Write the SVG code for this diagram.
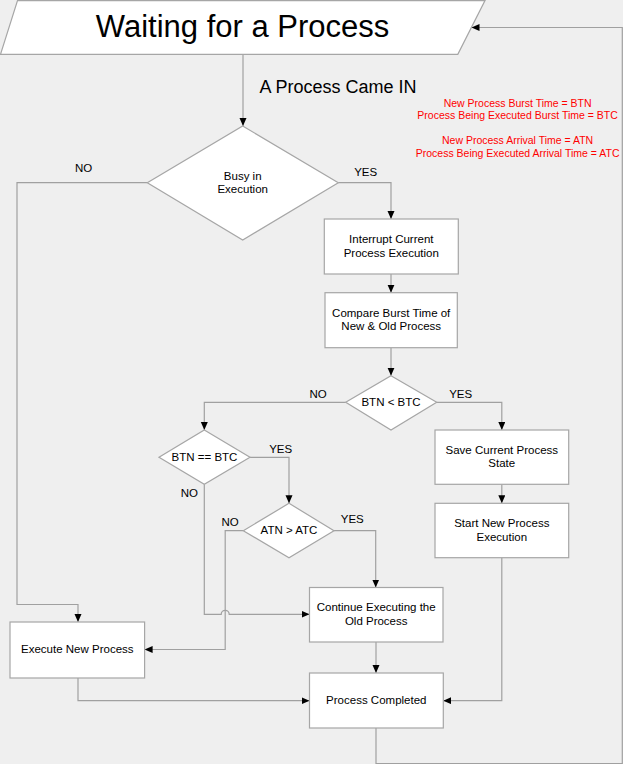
<svg xmlns="http://www.w3.org/2000/svg" width="625" height="769" viewBox="0 0 625 769">
<style>
.node{fill:#ffffff;stroke:#a6a6a6;stroke-width:1.2}
.t{font-family:"Liberation Sans",Arial,sans-serif;font-size:11.5px;fill:#000;text-anchor:middle}
.lbl{font-family:"Liberation Sans",Arial,sans-serif;font-size:11.5px;fill:#000;text-anchor:middle}
.red{font-family:"Liberation Sans",Arial,sans-serif;font-size:10.5px;fill:#ff0000;text-anchor:middle}
.c{fill:none;stroke:#a0a0a0;stroke-width:1.2}
</style>
<defs>
<marker id="arr" markerUnits="userSpaceOnUse" markerWidth="9" markerHeight="8" refX="8" refY="3.5" orient="auto">
<path d="M0,0 L8,3.5 L0,7 z" fill="#000"/>
</marker>
</defs>
<rect x="0" y="0" width="623" height="764" fill="#efefef"/>

<g id="connectors">
<path class="c" d="M243,54.5 V126" marker-end="url(#arr)"/>
<path class="c" d="M147.3,182.7 H17 V604.5 H78 V622" marker-end="url(#arr)"/>
<path class="c" d="M338.3,182.7 H391 V219" marker-end="url(#arr)"/>
<path class="c" d="M391,274 V292.7" marker-end="url(#arr)"/>
<path class="c" d="M391,347.7 V375.7" marker-end="url(#arr)"/>
<path class="c" d="M436.7,402.3 H501.8 V430" marker-end="url(#arr)"/>
<path class="c" d="M501.8,484.3 V503.3" marker-end="url(#arr)"/>
<path class="c" d="M501.8,557.7 V700.7 H443.3" marker-end="url(#arr)"/>
<path class="c" d="M345.7,402.3 H204.3 V430" marker-end="url(#arr)"/>
<path class="c" d="M250,457.3 H289 V503.3" marker-end="url(#arr)"/>
<path class="c" d="M204.3,484.3 V614.3 H221.2 A4,4 0 0 1 229.2,614.3 H309.5" marker-end="url(#arr)"/>
<path class="c" d="M334,530.7 H375.7 V587.5" marker-end="url(#arr)"/>
<path class="c" d="M243.3,530.7 H225.2 V649.5 H144.6" marker-end="url(#arr)"/>
<path class="c" d="M376,642 V673" marker-end="url(#arr)"/>
<path class="c" d="M78,678 V700.7 H309.5" marker-end="url(#arr)"/>
<path class="c" d="M376,728 V763.5 H622.3 V27.5 H471.5" marker-end="url(#arr)"/>
</g>

<g id="title">
<polygon class="node" points="17.5,0.6 485,0.6 457.8,54.3 0.5,54.3"/>
<text x="242.6" y="37" font-family="Liberation Sans,Arial,sans-serif" font-size="31" text-anchor="middle" fill="#000">Waiting for a Process</text>
</g>

<g id="came-in">
<text x="259.5" y="93" font-family="Liberation Sans,Arial,sans-serif" font-size="18" fill="#000">A Process Came IN</text>
</g>

<g id="legend">
<text class="red" x="517.6" y="106.7">New Process Burst Time = BTN</text>
<text class="red" x="517.6" y="119">Process Being Executed Burst Time = BTC</text>
<text class="red" x="517.6" y="144">New Process Arrival Time = ATN</text>
<text class="red" x="517.6" y="156.5">Process Being Executed Arrival Time = ATC</text>
</g>

<g id="busy">
<polygon class="node" points="242.7,126 338.3,182.7 242.7,240 147.3,182.7"/>
<text class="t" x="242.7" y="180">Busy in</text>
<text class="t" x="242.7" y="193.3">Execution</text>
</g>

<g id="interrupt">
<rect class="node" x="324.3" y="219" width="134" height="55"/>
<text class="t" x="391.3" y="243.3">Interrupt Current</text>
<text class="t" x="391.3" y="257.3">Process Execution</text>
</g>

<g id="compare">
<rect class="node" x="325" y="292.7" width="132.3" height="55"/>
<text class="t" x="391.2" y="316.7">Compare Burst Time of</text>
<text class="t" x="391.2" y="330">New &amp; Old Process</text>
</g>

<g id="btn-lt-btc">
<polygon class="node" points="391,375.7 436.7,402.3 391,430 345.7,402.3"/>
<text class="t" x="391" y="406.3">BTN &lt; BTC</text>
</g>

<g id="save">
<rect class="node" x="435" y="430" width="133.7" height="54.3"/>
<text class="t" x="501.8" y="454">Save Current Process</text>
<text class="t" x="501.8" y="467.3">State</text>
</g>

<g id="start">
<rect class="node" x="435" y="503.3" width="133.7" height="54.4"/>
<text class="t" x="501.8" y="527.3">Start New Process</text>
<text class="t" x="501.8" y="540.7">Execution</text>
</g>

<g id="btn-eq-btc">
<polygon class="node" points="204.3,430 250,457.3 204.3,484.3 159,457.3"/>
<text class="t" x="204.5" y="461">BTN == BTC</text>
</g>

<g id="atn-gt-atc">
<polygon class="node" points="289,503.3 334,530.7 289,557.7 243.3,530.7"/>
<text class="t" x="289" y="534.3">ATN &gt; ATC</text>
</g>

<g id="continue">
<rect class="node" x="309.5" y="587.5" width="133.5" height="54.5"/>
<text class="t" x="376.2" y="611">Continue Executing the</text>
<text class="t" x="376.2" y="625">Old Process</text>
</g>

<g id="execute">
<rect class="node" x="10" y="622" width="134.6" height="56"/>
<text class="t" x="77.3" y="652.7">Execute New Process</text>
</g>

<g id="completed">
<rect class="node" x="309.5" y="673" width="133.8" height="55"/>
<text class="t" x="376.3" y="704.3">Process Completed</text>
</g>

<g id="labels">
<text class="lbl" x="83.5" y="172">NO</text>
<text class="lbl" x="365.7" y="175.7">YES</text>
<text class="lbl" x="318" y="398.3">NO</text>
<text class="lbl" x="460.7" y="398.3">YES</text>
<text class="lbl" x="280.7" y="452.7">YES</text>
<text class="lbl" x="189.3" y="496.7">NO</text>
<text class="lbl" x="230" y="526">NO</text>
<text class="lbl" x="352.3" y="523.3">YES</text>
</g>
</svg>
